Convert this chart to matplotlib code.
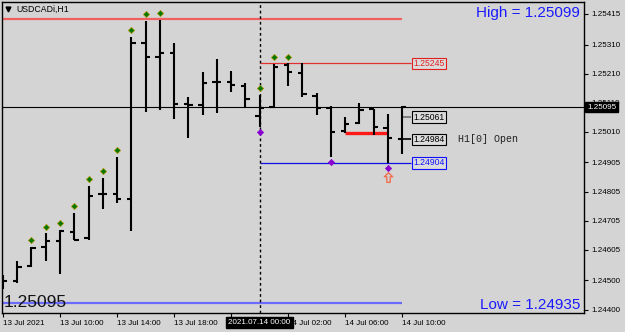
import numpy as np
import matplotlib.pyplot as plt
import matplotlib.transforms as mtransforms

# USDCADi H1, bars from 13 Jul 2021 06:00 to 14 Jul 2021 10:00
opens = [1.24477, 1.24497, 1.24549, 1.24614, 1.24635, 1.24666, 1.24645, 1.24796,
         1.24796, 1.24779, 1.25315, 1.25267, 1.25281, 1.25106, 1.25102, 1.25181,
         1.25181, 1.25168, 1.25064, 1.25095, 1.25240, 1.25212, 1.25133, 1.25092,
         1.25013, 1.25040, 1.25089, 1.25023, 1.24984]
highs = [1.24518, 1.24566, 1.24614, 1.24662, 1.24673, 1.24731, 1.24824, 1.24851,
         1.24924, 1.25336, 1.25391, 1.25394, 1.25315, 1.25130, 1.25216, 1.25260,
         1.25219, 1.25178, 1.25137, 1.25243, 1.25245, 1.25245, 1.25144, 1.25099,
         1.25061, 1.25109, 1.25089, 1.25071, 1.25099]
lows = [1.24470, 1.24491, 1.24546, 1.24566, 1.24522, 1.24638, 1.24638, 1.24745,
        1.24766, 1.24669, 1.25078, 1.25085, 1.25054, 1.24989, 1.25068, 1.25075,
        1.25147, 1.25095, 1.25027, 1.25092, 1.25168, 1.25130, 1.25068, 1.24924,
        1.25006, 1.25037, 1.24999, 1.24903, 1.24935]
closes = [1.24497, 1.24546, 1.24611, 1.24635, 1.24669, 1.24638, 1.24790, 1.24796,
          1.24779, 1.25315, 1.25267, 1.25281, 1.25106, 1.25102, 1.25178, 1.25181,
          1.25171, 1.25123, 1.25092, 1.25233, 1.25216, 1.25140, 1.25092, 1.25010,
          1.25037, 1.25085, 1.25027, 1.24989, 1.25095]

up_marks = [2, 3, 4, 5, 6, 7, 8, 9, 10, 11, 18, 19, 20]
down_marks = [18, 23, 27]
arrow_marks = [27]

xtick_pos = [0, 4, 8, 12, 16, 20, 24, 28]
# 22:00 label sits under the highlighted date box in the terminal
xtick_labels = ["13 Jul 2021", "13 Jul 10:00", "13 Jul 14:00", "13 Jul 18:00",
                "", "14 Jul 02:00", "14 Jul 06:00", "14 Jul 10:00"]
ytick_vals = [1.25415, 1.25310, 1.25210, 1.25110, 1.25010, 1.24905,
              1.24805, 1.24705, 1.24605, 1.24500, 1.24400]

prev_high = 1.25396
level_hi = 1.25245
level_lo = 1.24904
level_61 = 1.25061
open_h1 = 1.24984
red_seg = 1.25007
bottom_line = 1.24421
bid = 1.25095

bg = "#d4d4d4"
font = "Liberation Sans"

fig = plt.figure(figsize=(6.25, 3.32), dpi=100, facecolor=bg)
ax = fig.add_axes([2 / 625, 19 / 332, 582 / 625, 311 / 332])
ax.set_facecolor(bg)
ax.set_xlim(-0.07, 40.77)
ax.set_ylim(1.24388, 1.25456)

n = len(opens)
x = np.arange(n)

# level lines
ax.hlines(prev_high, 0, 28, color="#f06060", lw=1.6, zorder=1)
ax.hlines(bottom_line, 0, 28, color="#6a6aff", lw=1.6, zorder=1)
ax.axhline(bid, color="black", lw=0.8, zorder=1)
ax.hlines(level_hi, 18, 28.6, color="#e03030", lw=0.9, zorder=1)
ax.hlines(level_lo, 18, 28.6, color="#1010e0", lw=0.9, zorder=1)
ax.hlines(level_61, 28, 28.6, color="#707070", lw=1.2, zorder=1)
ax.hlines(open_h1, 28, 28.6, color="black", lw=1.2, zorder=1)
ax.axvline(18, color="black", lw=1, linestyle=(0, (2, 2)), zorder=1)
ax.hlines(red_seg, 24, 27, color="#ff1a1a", lw=2.4, zorder=2)

# OHLC bars
w = 0.3
ax.vlines(x, lows, highs, color="black", lw=1.5, zorder=3)
ax.hlines(opens, x - w, x, color="black", lw=1.5, zorder=3)
ax.hlines(closes, x, x + w, color="black", lw=1.5, zorder=3)

# markers
ax.plot(up_marks, [highs[i] + 0.00023 for i in up_marks], linestyle="none",
        marker="D", ms=3.2, mfc="#007a00", mec="#b09000", mew=0.5, zorder=4)
ax.plot(down_marks, [lows[i] - 0.00017 for i in down_marks], linestyle="none",
        marker="D", ms=3.2, mfc="#8a00d0", mec="#8a00d0", mew=0.5, zorder=4)
arrow = [(0, 1), (0.85, 0.15), (0.35, 0.15), (0.35, -1), (-0.35, -1),
         (-0.35, 0.15), (-0.85, 0.15), (0, 1)]
ax.plot(arrow_marks, [lows[i] - 0.00048 for i in arrow_marks], linestyle="none",
        marker=arrow, ms=7, mfc="none", mec="#f07050", mew=1, zorder=4)

# right price labels
def box_label(y, txt, col):
    ax.text(28.78, y, txt, fontsize=6.2, family=font, color=col, va="center",
            ha="left", zorder=5,
            bbox=dict(boxstyle="square,pad=0.15", fc="#dcdcdc", ec=col, lw=0.8))

box_label(level_hi, "1.25245", "#e02020")
box_label(level_61, "1.25061", "black")
box_label(open_h1, "1.24984", "black")
box_label(level_lo, "1.24904", "#1010ff")
ax.text(31.9, open_h1, "H1[0] Open", fontsize=7.2, family="Liberation Mono",
        color="#202020", va="center", ha="left")

# texts
ax.text(0.993, 0.965, "High = 1.25099", transform=ax.transAxes, fontsize=11,
        family=font, color="#1a1aff", ha="right", va="center")
ax.text(0.993, 0.026, "Low = 1.24935", transform=ax.transAxes, fontsize=11,
        family=font, color="#1a1aff", ha="right", va="center")
ax.text(0.002, 0.035, "1.25095", transform=ax.transAxes, fontsize=12.5,
        family=font, color="#111111", ha="left", va="center")
ax.text(0.024, 0.977, "USDCADi,H1", transform=ax.transAxes, fontsize=6.3,
        family=font, color="black", ha="left", va="center")
ax.plot([0.01], [0.977], transform=ax.transAxes, marker="v", ms=3.5,
        color="black", linestyle="none")

# axes
for s in ax.spines.values():
    s.set_color("black")
    s.set_linewidth(1)
ax.yaxis.tick_right()
ax.set_yticks(ytick_vals)
ax.set_yticklabels([f"{v:.5f}" for v in ytick_vals], fontsize=5.8, family=font)
ax.set_xticks(xtick_pos)
ax.set_xticklabels(xtick_labels, fontsize=5.8, family=font)
for lab in ax.get_xticklabels():
    lab.set_horizontalalignment("left")
ax.tick_params(axis="both", direction="out", length=3, width=0.8, color="black")
ax.tick_params(axis="x", pad=2)
ax.tick_params(axis="y", pad=2)

# highlighted time and current price
tr = mtransforms.blended_transform_factory(ax.transData, ax.transAxes)
ax.text(18, -0.029, "2021.07.14 00:00", transform=tr, fontsize=5.8, family=font,
        color="white", ha="center", va="center", zorder=6, clip_on=False,
        bbox=dict(boxstyle="square,pad=0.25", fc="black", ec="black"))
tr2 = mtransforms.blended_transform_factory(ax.transAxes, ax.transData)
ax.text(1.005, bid, "1.25095", transform=tr2, fontsize=5.8, family=font,
        color="white", ha="left", va="center", zorder=6, clip_on=False,
        bbox=dict(boxstyle="square,pad=0.2", fc="black", ec="black"))

fig.savefig("out.png", dpi=100, facecolor=bg)
